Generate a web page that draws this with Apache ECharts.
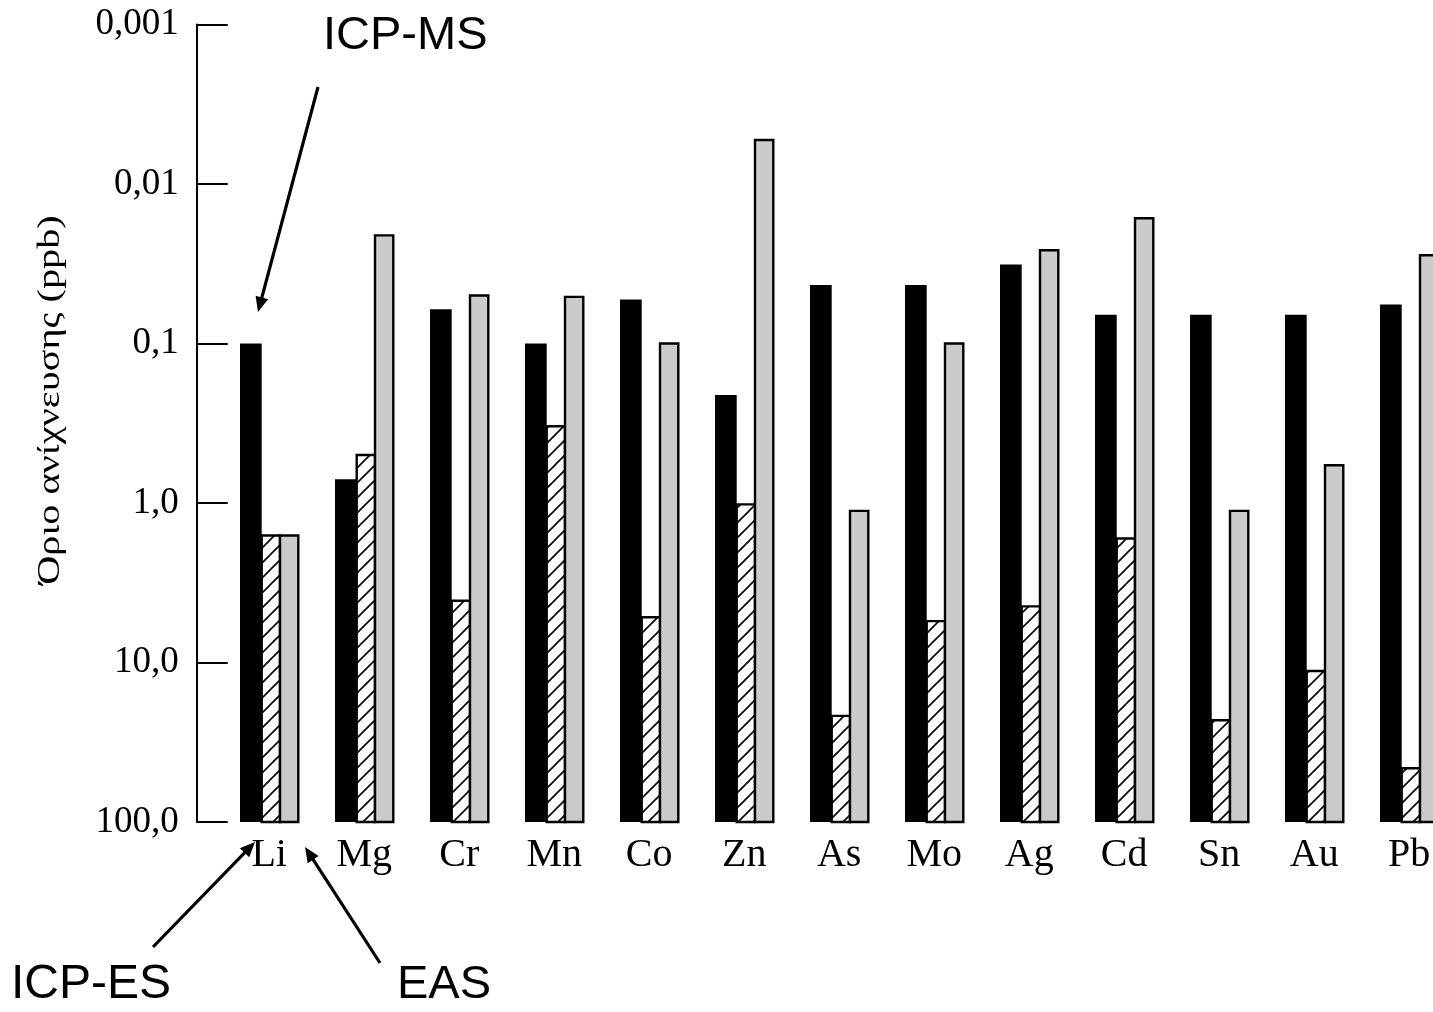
<!DOCTYPE html>
<html>
<head>
<meta charset="utf-8">
<script src="https://cdn.jsdelivr.net/npm/echarts@6/dist/echarts.min.js"></script>
<style>
html,body{margin:0;padding:0;background:#fff;overflow:hidden;}
#chart{width:1460px;height:1012px;}
</style>
</head>
<body>
<div id="chart"></div>
<script>
// ---- data ----
var categories = ['Li','Mg','Cr','Mn','Co','Zn','As','Mo','Ag','Cd','Sn','Au','Pb'];
var seriesNames = ['ICP-MS','ICP-ES','EAS'];
var icpMS = [0.10, 0.71, 0.061, 0.10, 0.053, 0.21, 0.043, 0.043, 0.032, 0.066, 0.066, 0.066, 0.057];
var icpES = [1.6, 0.50, 4.1, 0.33, 5.2, 1.02, 21.6, 5.5, 4.45, 1.67, 23, 11.3, 46];
var eas   = [1.6, 0.021, 0.050, 0.051, 0.10, 0.0053, 1.12, 0.10, 0.026, 0.0164, 1.12, 0.58, 0.028];
var yTickLabels = ['0,001','0,01','0,1','1,0','10,0','100,0'];
var yAxisName = 'Όριο ανίχνευσης (ppb)';
var yMin = 0.001, yMax = 100;

// ---- hatch pattern ----
var hatch = document.createElement('canvas');
hatch.width = 15; hatch.height = 15;
(function(){
  var c = hatch.getContext('2d');
  c.fillStyle = '#fff'; c.fillRect(0,0,15,15);
  c.strokeStyle = '#000'; c.lineWidth = 1.6;
  c.beginPath();
  c.moveTo(-1,16); c.lineTo(16,-1);
  c.moveTo(-2,2); c.lineTo(2,-2);
  c.moveTo(13,17); c.lineTo(17,13);
  c.stroke();
})();

// bar slots within a category band (fraction of band width)
var slots = [[-29.2/95, -7.5/95], [-7.5/95, 10.8/95], [10.8/95, 29.1/95]];
var styles = [
  {fill:'#000', lineWidth:0},
  {fill:{image:hatch, repeat:'repeat'}, stroke:'#000', lineWidth:2.4},
  {fill:'#cbcbcb', stroke:'#000', lineWidth:2.4}
];

function makeRender(k){
  return function(params, api){
    var i = api.value(0), v = api.value(1);
    var top = api.coord([i, v]);
    var base = api.coord([i, yMax]);
    var bw = params.coordSys.width / categories.length;
    var x0 = top[0] + bw*slots[k][0], x1 = top[0] + bw*slots[k][1];
    return {type:'rect', shape:{x:x0, y:top[1], width:x1-x0, height:base[1]-top[1]}, style: styles[k]};
  };
}

function toData(arr){ return arr.map(function(v,i){ return [i, v]; }); }

function arrow(x1,y1,x2,y2){
  var dx=x2-x1, dy=y2-y1, L=Math.sqrt(dx*dx+dy*dy), ux=dx/L, uy=dy/L, px=-uy, py=ux;
  var hl=15, hw=6.5;
  var bx=x2-ux*hl, by=y2-uy*hl;
  return [
    {type:'line', shape:{x1:x1,y1:y1,x2:bx+ux*2,y2:by+uy*2}, style:{stroke:'#000', lineWidth:3.2}},
    {type:'polygon', shape:{points:[[x2,y2],[bx+px*hw,by+py*hw],[bx-px*hw,by-py*hw]]}, style:{fill:'#000'}}
  ];
}

var chart = echarts.init(document.getElementById('chart'));
var graphics = [
  {type:'text', x:51, y:400, rotation:Math.PI/2, scaleX:1.3,
   style:{text:yAxisName, fontFamily:'Liberation Serif', fontSize:31, fill:'#000', align:'center', verticalAlign:'middle'}},
  {type:'text', x:323, y:36, style:{text:'ICP-MS', fontFamily:'Liberation Sans', fontSize:47, fill:'#000', align:'left', verticalAlign:'middle'}},
  {type:'text', x:11, y:985, style:{text:'ICP-ES', fontFamily:'Liberation Sans', fontSize:48, fill:'#000', align:'left', verticalAlign:'middle'}},
  {type:'text', x:397, y:985, style:{text:'EAS', fontFamily:'Liberation Sans', fontSize:47, fill:'#000', align:'left', verticalAlign:'middle'}}
].concat(arrow(318,87,258,312)).concat(arrow(153,947,255,842)).concat(arrow(380,963,305,847));

chart.setOption({
  animation:false,
  backgroundColor:'#fff',
  grid:{left:221.7, top:24.5, width:1235, height:797.5},
  xAxis:{
    type:'category', data:categories,
    axisLine:{show:false}, axisTick:{show:false}, splitLine:{show:false},
    axisLabel:{interval:0, margin:13, fontFamily:'Liberation Serif', fontSize:40, color:'#000'}
  },
  yAxis:{
    type:'log', logBase:10, min:yMin, max:yMax, inverse:true, offset:25,
    splitNumber:5,
    axisLine:{show:true, lineStyle:{color:'#000', width:2}},
    axisTick:{show:true, inside:true, length:31, lineStyle:{color:'#000', width:2}},
    minorTick:{show:false}, splitLine:{show:false},
    axisLabel:{margin:18, fontFamily:'Liberation Serif', fontSize:37, color:'#000',
      formatter:function(v){ var k=Math.round(Math.log(v)/Math.LN10)+3; return yTickLabels[k]||''; }}
  },
  series:[
    {type:'custom', name:seriesNames[0], renderItem:makeRender(0), encode:{x:0,y:1}, data:toData(icpMS), clip:false},
    {type:'custom', name:seriesNames[1], renderItem:makeRender(1), encode:{x:0,y:1}, data:toData(icpES), clip:false},
    {type:'custom', name:seriesNames[2], renderItem:makeRender(2), encode:{x:0,y:1}, data:toData(eas), clip:false}
  ],
  graphic:graphics
});
</script>
</body>
</html>
